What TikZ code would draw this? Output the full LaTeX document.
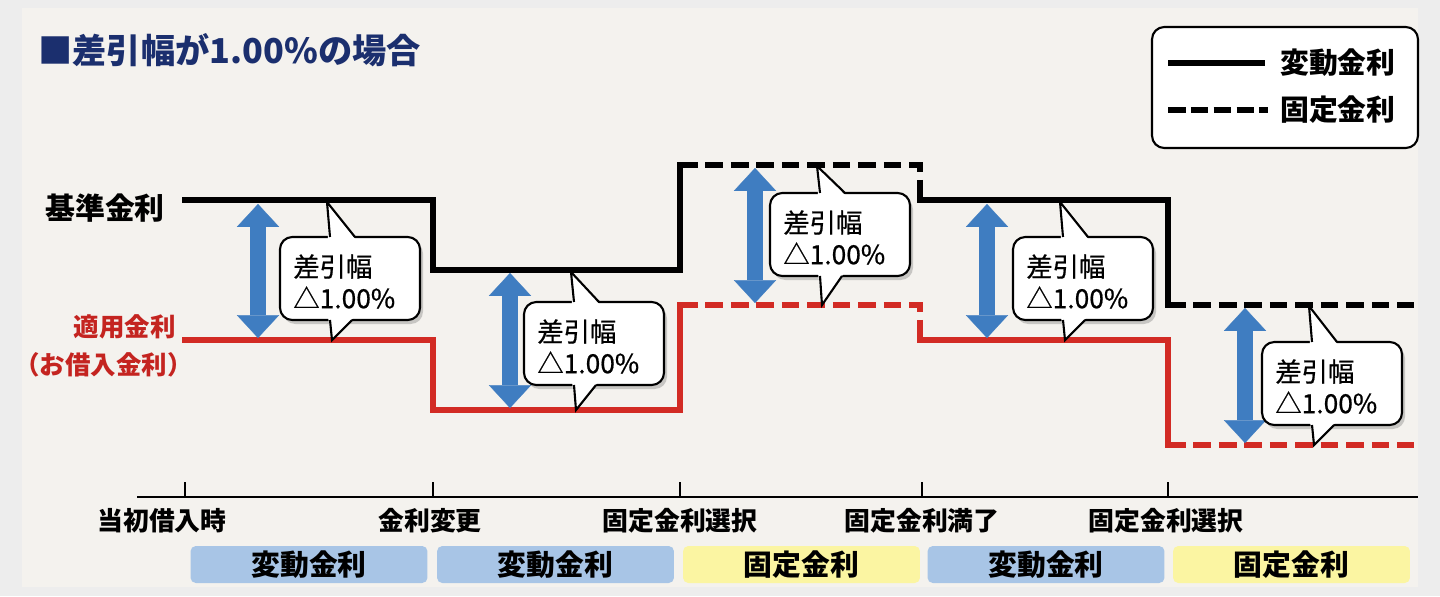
\documentclass[tikz,border=0pt]{standalone}
\usepackage{fontspec}
\setmainfont{Noto Sans CJK JP}
\newfontfamily\fukifont[FakeBold=0.7]{Noto Sans CJK JP}
\usepackage{tikz}
\usetikzlibrary{arrows.meta}

\definecolor{kon}{HTML}{1B2F6E}
\definecolor{aka}{HTML}{D22B24}
\definecolor{akamoji}{HTML}{C42420}
\definecolor{ao}{HTML}{3F7DC1}
\definecolor{usuao}{HTML}{A8C5E6}
\definecolor{usuki}{HTML}{FBF5A2}
\definecolor{kami}{HTML}{F4F2EE}
\definecolor{soto}{HTML}{EDEDED}

\tikzset{
  kinri/.style={line width=3.2pt, line join=miter, line cap=rect},
  kotei/.style={line width=3.2pt, line join=miter, dash pattern=on 10pt off 4.5pt},
  yajirushi/.style={draw=ao, line width=9pt, >={Triangle[width=24pt,length=13pt,line width=0.1pt]}, <->},
  fukiwaku/.style={draw=black, line width=1.2pt, line join=miter},
  kage/.style={fill=black, opacity=.18},
  fukimoji/.style={anchor=north west, inner sep=0pt, align=left,
    font=\fukifont\fontsize{15pt}{18pt}\selectfont},
  jiku/.style={line width=1.2pt},
  jikumoji/.style={font=\fontsize{14.7pt}{17pt}\selectfont\bfseries},
  kikan/.style={rounded corners=3pt, minimum width=4.74cm, minimum height=0.74cm,
    inner sep=0pt, font=\fontsize{16.4pt}{19pt}\selectfont\bfseries}
}

%吹き出し(上下に先がある)
\newcommand{\fukidashi}[5]{% #1名前 #2左x #3上y #4上の先y #5下の先y
  \fill[kage, rounded corners=7pt] (#2+3,#3+4) rectangle ++(140,83);
  \draw[fukiwaku, fill=white, rounded corners=7pt] (#2,#3) rectangle ++(140,83);
  \fill[white] (#2+48,#3+3) -- (#2+47,#4) -- (#2+76,#3+3) -- cycle;
  \draw[fukiwaku] (#2+50,#3) -- (#2+47,#4) -- (#2+75,#3);
  \fill[white] (#2+48,#3+80) -- (#2+52,#5) -- (#2+74,#3+80) -- cycle;
  \draw[fukiwaku] (#2+50,#3+83) -- (#2+52,#5) -- (#2+72,#3+83);
  \node[fukimoji] (#1) at (#2+13,#3+17) {差引幅\\△1.00\%};
}

\begin{document}
\begin{tikzpicture}[x=0.02cm, y=-0.02cm]
  %背景
  \fill[soto] (0,0) rectangle (1440,596);
  \fill[kami] (22,8) rectangle (1418,587);
  \useasboundingbox (0,0) rectangle (1440,596);

  %タイトル
  \node[anchor=west, inner sep=0pt, text=kon, font=\fontsize{19.5pt}{22pt}\selectfont\bfseries]
    (title) at (38,50) {■差引幅が1.00\%の場合};

  %凡例
  \draw[line width=1.2pt, fill=white, rounded corners=7pt] (1152,27) rectangle (1418,148);
  \draw[line width=3.5pt] (1168,63) -- (1265,63);
  \draw[line width=3.5pt, dash pattern=on 10pt off 3pt] (1168,110) -- (1268,110);
  \node[anchor=west, inner sep=0pt, font=\fontsize{16.4pt}{19pt}\selectfont\bfseries]
    (hanrei1) at (1280,63) {変動金利};
  \node[anchor=west, inner sep=0pt, font=\fontsize{16.4pt}{19pt}\selectfont\bfseries]
    (hanrei2) at (1280,110) {固定金利};

  %左のラベル
  \node[font=\fontsize{17pt}{20pt}\selectfont\bfseries] (kijun) at (105,208) {基準金利};
  \node[anchor=east, inner sep=0pt, text=akamoji, font=\fontsize{14.5pt}{17pt}\selectfont\bfseries]
    (tekiyo) at (176,327) {適用金利};
  \node[anchor=east, inner sep=0pt, text=akamoji, font=\fontsize{14.5pt}{17pt}\selectfont\bfseries]
    (okariire) at (193,365) {（お借入金利）};

  %基準金利の線
  \draw[kinri] (185,200) -- (433,200) -- (433,270) -- (680,270) -- (680,165);
  \draw[kotei] (680,165) -- (920,165) -- (920,200);
  \draw[kinri] (920,200) -- (1168,200) -- (1168,305);
  \draw[kotei] (1168,305) -- (1414,305);

  %適用金利の線
  \draw[kinri, aka] (185,340) -- (433,340) -- (433,410) -- (680,410) -- (680,305);
  \draw[kotei, aka] (680,305) -- (920,305) -- (920,340);
  \draw[kinri, aka] (920,340) -- (1168,340) -- (1168,445);
  \draw[kotei, aka] (1168,445) -- (1414,445);

  %差引幅の矢印
  \draw[yajirushi] (258,204) -- (258,338);
  \draw[yajirushi] (510,273) -- (510,408);
  \draw[yajirushi] (755,168) -- (755,303);
  \draw[yajirushi] (987,204) -- (987,338);
  \draw[yajirushi] (1245,308) -- (1245,443);

  %吹き出し
  \fukidashi{fuki1}{280}{237}{202}{340}
  \fukidashi{fuki2}{524}{302}{272}{410}
  \fukidashi{fuki3}{770}{193}{166}{305}
  \fukidashi{fuki4}{1013}{237}{202}{340}
  \fukidashi{fuki5}{1262}{342}{306}{445}

  %時間軸
  \draw[jiku] (137,497) -- (1418,497);
  \foreach \x in {185,433,680,922,1168}
    \draw[jiku] (\x,482) -- (\x,497);
  \node[jikumoji] (toki1) at (162,521) {当初借入時};
  \node[jikumoji] (toki2) at (430,521) {金利変更};
  \node[jikumoji] (toki3) at (680,521) {固定金利選択};
  \node[jikumoji] (toki4) at (922,521) {固定金利満了};
  \node[jikumoji] (toki5) at (1166,521) {固定金利選択};

  %期間の帯
  \node[kikan, fill=usuao] (kikan1) at (309,564.5) {変動金利};
  \node[kikan, fill=usuao] (kikan2) at (555.5,564.5) {変動金利};
  \node[kikan, fill=usuki] (kikan3) at (801.5,564.5) {固定金利};
  \node[kikan, fill=usuao] (kikan4) at (1046,564.5) {変動金利};
  \node[kikan, fill=usuki] (kikan5) at (1291.5,564.5) {固定金利};
\end{tikzpicture}
\end{document}
